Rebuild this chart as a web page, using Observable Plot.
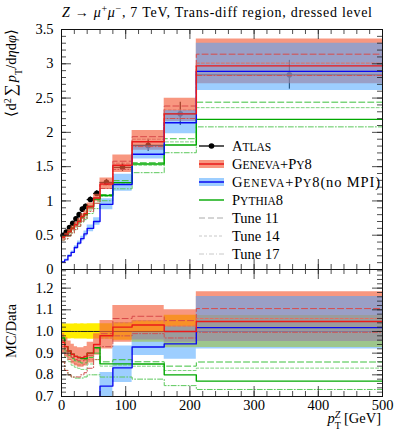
<!DOCTYPE html>
<html><head><meta charset="utf-8">
<script src="https://cdn.jsdelivr.net/npm/d3@7"></script>
<script src="https://cdn.jsdelivr.net/npm/@observablehq/plot@0.6"></script>
<style>
body{margin:0;background:#fff;}
#c{position:relative;width:399px;height:433px;overflow:hidden;background:#fff;font-family:'Liberation Serif',serif;}
#c svg{position:absolute;left:0;overflow:visible;}
#c svg text{font-family:'Liberation Serif',serif !important;}
</style></head><body><div id="c"></div>
<script>
// ---- data ----
const edges = [0,5,10,15,20,25,30,35,40,50,60,80,110,160,210,500];
const atlas    = [0.50,0.545,0.61,0.675,0.74,0.80,0.88,0.92,1.02,1.11,1.27,1.49,1.81,2.27,2.84];
const atlasErr = [0.018,0.019,0.021,0.023,0.026,0.028,0.031,0.032,0.036,0.039,0.045,0.06,0.09,0.17,0.21];
const geneva   = [0.475,0.507,0.555,0.604,0.655,0.704,0.774,0.814,0.918,1.043,1.245,1.520,1.864,2.27,2.97];
const genevaLo = [0.45,0.480,0.528,0.574,0.622,0.668,0.735,0.773,0.872,0.988,1.168,1.416,1.738,2.157,2.71];
const genevaHi = [0.495,0.529,0.583,0.635,0.688,0.74,0.814,0.856,0.969,1.099,1.334,1.669,2.027,2.497,3.36];
const genevaT11 = [0.465,0.496,0.543,0.594,0.644,0.692,0.761,0.80,0.908,1.043,1.257,1.579,1.937,2.384,3.14];
const genevaT14 = [0.455,0.485,0.531,0.581,0.629,0.676,0.744,0.782,0.887,1.021,1.232,1.55,1.90,2.327,3.01];
const genevaT17 = [0.43,0.447,0.488,0.533,0.585,0.632,0.704,0.745,0.847,0.966,1.181,1.46,1.792,2.202,2.83];
const noMPI   = [0.11,0.14,0.20,0.25,0.32,0.385,0.45,0.52,0.60,0.70,0.95,1.24,1.68,2.14,2.89];
const noMPILo = [0.10,0.128,0.184,0.23,0.295,0.354,0.414,0.478,0.552,0.644,0.87,1.14,1.61,1.98,2.61];
const noMPIHi = [0.12,0.152,0.216,0.27,0.346,0.416,0.486,0.562,0.648,0.756,1.03,1.39,1.80,2.32,3.30];
const pythia    = [0.485,0.507,0.555,0.604,0.655,0.704,0.77,0.805,0.918,1.027,1.08,1.267,1.539,1.816,2.19];
const pythiaT11 = [0.475,0.496,0.543,0.591,0.64,0.688,0.752,0.787,0.898,0.999,1.092,1.296,1.557,1.907,2.44];
const pythiaT14 = [0.46,0.48,0.525,0.57,0.618,0.664,0.726,0.759,0.867,0.966,1.067,1.259,1.52,1.861,2.36];
const pythiaT17 = [0.43,0.447,0.488,0.533,0.581,0.628,0.691,0.727,0.816,0.888,1.003,1.177,1.412,1.703,2.08];
const xTicks = [0,100,200,300,400,500];
const yTicksTop = [0,0.5,1,1.5,2,2.5,3,3.5];
const yTicksRatio = [0.7,0.8,0.9,1.0,1.1,1.2];

// ---- helpers ----
const nb = atlas.length;
const steps = vals => { const p = vals.map((v,i)=>({x:edges[i], y:v})); p.push({x:edges[nb], y:vals[nb-1]}); return p; };
const band = (lo,hi) => { const p = lo.map((v,i)=>({x:edges[i], y1:v, y2:hi[i]})); p.push({x:edges[nb], y1:lo[nb-1], y2:hi[nb-1]}); return p; };
const rat = vals => vals.map((v,i)=>v/atlas[i]);

const RED="#ea1a1a", BLUE="#0a0af0", GREEN="#00a800";
const REDBAND="#f5603c", BLUEBAND="#4da6ff";
const W=399, mL=61, mR=17, innerW=W-mL-mR;
const FONT="'Liberation Serif', serif";

function curves(f, clip){
  const o = {x:"x", y:"y", curve:"step-after", clip};
  return [
    Plot.areaY(band(f(genevaLo), f(genevaHi)), {x:"x", y1:"y1", y2:"y2", curve:"step-after", fill:REDBAND, fillOpacity:0.65, clip}),
    Plot.areaY(band(f(noMPILo), f(noMPIHi)), {x:"x", y1:"y1", y2:"y2", curve:"step-after", fill:BLUEBAND, fillOpacity:0.55, clip}),
    Plot.line(steps(f(pythiaT11)), {...o, stroke:"#3cc03c", strokeWidth:1, strokeDasharray:"6,3"}),
    Plot.line(steps(f(pythiaT14)), {...o, stroke:"#7fd37f", strokeWidth:1, strokeDasharray:"3,2"}),
    Plot.line(steps(f(pythiaT17)), {...o, stroke:"#5cc85c", strokeWidth:1, strokeDasharray:"5,2,1,2"}),
    Plot.line(steps(f(genevaT11)), {...o, stroke:"#d84a4a", strokeWidth:1, strokeDasharray:"6,3"}),
    Plot.line(steps(f(genevaT14)), {...o, stroke:"#e07060", strokeWidth:1, strokeDasharray:"3,2"}),
    Plot.line(steps(f(genevaT17)), {...o, stroke:"#d05050", strokeWidth:1, strokeDasharray:"5,2,1,2"}),
    Plot.line(steps(f(pythia)), {...o, stroke:GREEN, strokeWidth:1.4}),
    Plot.line(steps(f(noMPI)), {...o, stroke:BLUE, strokeWidth:1.4}),
    Plot.line(steps(f(geneva)), {...o, stroke:RED, strokeWidth:1.4})
  ];
}
function frameTicks(innerH, xMinor, yMajor, yMinor){
  const s = {stroke:"#222", strokeWidth:0.8};
  return [
    Plot.tickX(xTicks, {x:d=>d, insetTop:innerH-10, ...s}),
    Plot.tickX(xMinor, {x:d=>d, insetTop:innerH-5, ...s}),
    Plot.tickX(xTicks, {x:d=>d, insetBottom:innerH-10, ...s}),
    Plot.tickX(xMinor, {x:d=>d, insetBottom:innerH-5, ...s}),
    Plot.tickY(yMajor, {y:d=>d, insetRight:innerW-10, ...s}),
    Plot.tickY(yMinor, {y:d=>d, insetRight:innerW-5, ...s}),
    Plot.tickY(yMajor, {y:d=>d, insetLeft:innerW-10, ...s}),
    Plot.tickY(yMinor, {y:d=>d, insetLeft:innerW-5, ...s}),
    Plot.frame({stroke:"#111", strokeWidth:1})
  ];
}
const xMinor = d3.range(0, 501, 20);
const rows = atlas.map((v,i)=>({x1:edges[i], x2:edges[i+1], xc:(edges[i]+edges[i+1])/2, y:v, lo:v-atlasErr[i], hi:v+atlasErr[i]}));

// ---- main panel ----
const topPlot = Plot.plot({
  width: W, height: 270, marginTop: 29, marginBottom: 1, marginLeft: mL, marginRight: mR,
  style: {background:"transparent", overflow:"visible", fontFamily:FONT, fontSize:"14.5px", color:"#000"},
  x: {domain:[0,500], axis:null},
  y: {domain:[0,3.5]},
  marks: [
    Plot.ruleY(rows, {x1:"x1", x2:"x2", y:"y", stroke:"#000", strokeWidth:1.2}),
    Plot.ruleX(rows, {x:"xc", y1:"lo", y2:"hi", stroke:"#000", strokeWidth:1.2}),
    Plot.dot(rows, {x:"xc", y:"y", r:2.8, fill:"#000"}),
    ...curves(v=>v, false),
    ...frameTicks(240, xMinor, yTicksTop, d3.range(0, 3.501, 0.1)),
    Plot.axisY(yTicksTop, {tickSize:0, tickPadding:8, tickFormat:d=>String(d), label:null, fontSize:14.5})
  ]
});
topPlot.style.top = "0px";

// ---- ratio panel ----
const ratioPlot = Plot.plot({
  width: W, height: 164, marginTop: 0, marginBottom: 37, marginLeft: mL, marginRight: mR,
  style: {background:"transparent", overflow:"visible", fontFamily:FONT, fontSize:"14.5px", color:"#000"},
  x: {domain:[0,500]},
  y: {domain:[0.7,1.286]},
  marks: [
    Plot.areaY(band(rat(atlas.map((v,i)=>v-atlasErr[i])), rat(atlas.map((v,i)=>v+atlasErr[i]))), {x:"x", y1:"y1", y2:"y2", curve:"step-after", fill:"#ffee00", clip:true}),
    Plot.line(steps(rat(atlas)), {x:"x", y:"y", curve:"step-after", stroke:"#222", strokeWidth:1}),
    ...curves(rat, true),
    ...frameTicks(127, xMinor, yTicksRatio, d3.range(0.7, 1.2861, 0.02)),
    Plot.axisY(yTicksRatio, {tickSize:0, tickPadding:8, tickFormat:d3.format(".1f"), label:null, fontSize:14.5}),
    Plot.axisX(xTicks, {tickSize:0, tickPadding:3, label:null, fontSize:14.5})
  ]
});
ratioPlot.style.top = "269px";

const c = document.getElementById("c");
c.appendChild(topPlot);
c.appendChild(ratioPlot);

// ---- text overlay: title, axis labels, legend ----
const NS = "http://www.w3.org/2000/svg";
const ov = document.createElementNS(NS, "svg");
ov.setAttribute("width", 399); ov.setAttribute("height", 433);
ov.style.top = "0px";
ov.innerHTML = `
<text x="62" y="17" font-size="14" textLength="310" lengthAdjust="spacing"><tspan font-style="italic">Z</tspan> → <tspan font-style="italic">μ</tspan><tspan baseline-shift="super" font-size="10">+</tspan><tspan font-style="italic">μ</tspan><tspan baseline-shift="super" font-size="10">−</tspan>, 7 TeV, Trans-diff region, dressed level</text>
<text transform="translate(16,29) rotate(-90)" text-anchor="end" font-size="14.5">⟨d<tspan baseline-shift="super" font-size="10">2</tspan><tspan dx="2" font-size="17">∑</tspan><tspan dx="2" font-style="italic">p</tspan><tspan baseline-shift="sub" font-size="10">T</tspan>/d<tspan font-style="italic">η</tspan>d<tspan font-style="italic">φ</tspan>⟩</text>
<text transform="translate(16,331) rotate(-90)" text-anchor="middle" font-size="14.5">MC/Data</text>
<text x="381" y="423" text-anchor="end" font-size="14.5"><tspan font-style="italic">p</tspan><tspan baseline-shift="sub" font-size="10">T</tspan><tspan dx="-6" baseline-shift="super" font-size="10" font-style="italic">Z</tspan> [GeV]</text>
<g font-size="14.5">
  <line x1="199" x2="224" y1="146" y2="146" stroke="#000" stroke-width="1.3"/>
  <circle cx="211.5" cy="146" r="2.8" fill="#000"/>
  <text x="232" y="150.5">A<tspan font-size="11.5">TLAS</tspan></text>
  <rect x="199" y="160" width="25" height="8" fill="${REDBAND}" fill-opacity="0.65"/>
  <line x1="199" x2="224" y1="164" y2="164" stroke="${RED}" stroke-width="1.5"/>
  <text x="232" y="168.5">G<tspan font-size="11.5">ENEVA</tspan>+P<tspan font-size="11.5">Y</tspan>8</text>
  <rect x="199" y="178" width="25" height="8" fill="${BLUEBAND}" fill-opacity="0.55"/>
  <line x1="199" x2="224" y1="182" y2="182" stroke="${BLUE}" stroke-width="1.5"/>
  <text x="232" y="186.5" textLength="148" lengthAdjust="spacing">G<tspan font-size="11.5">ENEVA</tspan>+P<tspan font-size="11.5">Y</tspan>8(no MPI)</text>
  <line x1="199" x2="224" y1="200" y2="200" stroke="${GREEN}" stroke-width="1.4"/>
  <text x="232" y="204.5">P<tspan font-size="11.5">YTHIA</tspan>8</text>
  <line x1="199" x2="224" y1="218" y2="218" stroke="#aaa" stroke-width="1" stroke-dasharray="6,3"/>
  <text x="232" y="222.5">Tune 11</text>
  <line x1="199" x2="224" y1="236" y2="236" stroke="#c8c8c8" stroke-width="1" stroke-dasharray="3,2"/>
  <text x="232" y="240.5">Tune 14</text>
  <line x1="199" x2="224" y1="254" y2="254" stroke="#c8c8c8" stroke-width="1" stroke-dasharray="5,2,1,2"/>
  <text x="232" y="258.5">Tune 17</text>
</g>`;
c.appendChild(ov);
</script></body></html>
